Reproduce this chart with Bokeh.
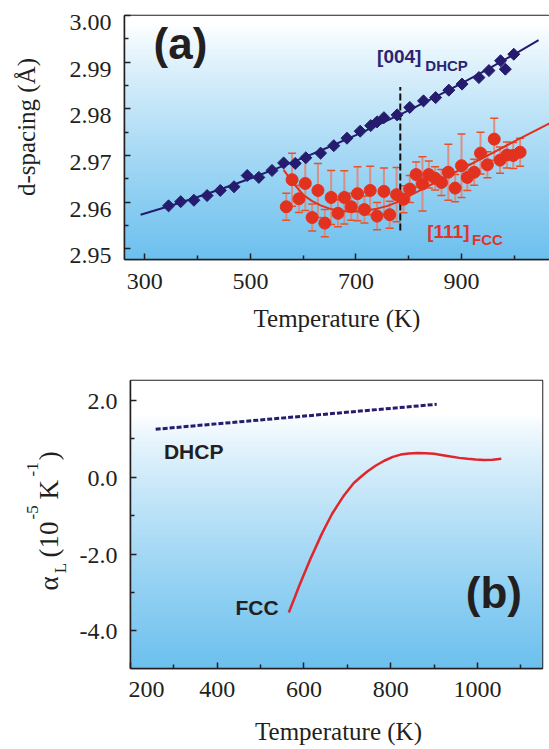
import numpy as np
from bokeh.plotting import figure
from bokeh.layouts import column, row
from bokeh.models import (Range1d, FixedTicker, Whisker, ColumnDataSource, Label,
                          TeeHead, LinearAxis, CustomJSTickFormatter)
from bokeh.embed import file_html
from bokeh.resources import INLINE

# ---------------- Panel (a): d-spacing vs temperature ----------------
dhcp_T = [345, 368, 393, 418, 443, 469, 494, 516, 541, 563, 585, 605, 633, 658,
          683, 708, 728, 740, 753, 778, 802, 828, 851, 876, 901, 933, 952, 974,
          983, 999]
dhcp_d = [2.9592, 2.9601, 2.9604, 2.9614, 2.9625, 2.9633, 2.9657, 2.9653, 2.9668,
          2.9684, 2.9683, 2.9695, 2.9705, 2.9721, 2.9737, 2.9752, 2.9764, 2.9772,
          2.9781, 2.9787, 2.9803, 2.9817, 2.9824, 2.9840, 2.9853, 2.9867, 2.9882,
          2.9903, 2.9885, 2.9917]

dhcp_fit_T = [292, 350, 400, 450, 500, 550, 600, 650, 700, 750, 800, 850, 900,
              950, 1000, 1046]
dhcp_fit_d = [2.9573, 2.95927, 2.96109, 2.96302, 2.96506, 2.96722, 2.96948,
              2.97187, 2.97436, 2.97697, 2.97968, 2.98251, 2.98546, 2.98851,
              2.99168, 2.9947]

fcc_T = [568, 579, 592, 604, 617, 628, 641, 653, 666, 678, 691, 703, 716, 727,
         740, 753, 764, 777, 790, 802, 814, 826, 838, 850, 862, 875, 888, 900,
         911, 924, 936, 949, 962, 973, 986, 998, 1011]
fcc_d = [2.9590, 2.9648, 2.9607, 2.9640, 2.9567, 2.9625, 2.9555, 2.9610, 2.9576,
         2.9610, 2.9590, 2.9618, 2.9584, 2.9625, 2.9570, 2.9623, 2.9573, 2.9616,
         2.9606, 2.9628, 2.9659, 2.9639, 2.9659, 2.9651, 2.9642, 2.9664, 2.9630,
         2.9678, 2.9653, 2.9664, 2.9705, 2.9680, 2.9735, 2.9690, 2.9701, 2.9700,
         2.9707]
fcc_err = [0.0029, 0.0057, 0.0029, 0.0058, 0.0029, 0.0058, 0.0029, 0.0058, 0.0029,
           0.0057, 0.0029, 0.0058, 0.0029, 0.0052, 0.0029, 0.0050, 0.0029, 0.0058,
           0.0029, 0.0029, 0.0027, 0.0058, 0.0029, 0.0025, 0.0028, 0.0060, 0.0029,
           0.0068, 0.0028, 0.0028, 0.0045, 0.0028, 0.0045, 0.0028, 0.0028, 0.0028,
           0.0030]

fcc_fit_T = [563, 575, 590, 602, 617, 633, 650, 665, 685, 702, 720, 740, 760, 778,
             790, 850, 900, 950, 1000, 1067]
fcc_fit_d = [2.9669, 2.9650, 2.9629, 2.9614, 2.9602, 2.9593, 2.9586, 2.9582,
             2.9580, 2.9580, 2.9582, 2.9586, 2.9592, 2.9600, 2.9607, 2.9642,
             2.9671, 2.9700, 2.9730, 2.9769]

transition_T = [784, 784]
transition_d = [2.9539, 2.9847]

xticks_a = [300, 500, 700, 900]
xminor_a = [400, 600, 800, 1000]
yticks_a = [2.95, 2.96, 2.97, 2.98, 2.99, 3.00]
ylabels_a = ["2.95", "2.96", "2.97", "2.98", "2.99", "3.00"]
yminor_a = [2.955, 2.965, 2.975, 2.985, 2.995]

# ---------------- Panel (b): linear expansion coefficient ----------------
alpha_dhcp_T = [258, 906]
alpha_dhcp = [1.25, 1.90]

alpha_fcc_T = [565, 578, 590, 603, 615, 628, 640, 653, 665, 678, 690, 703, 715,
               730, 746, 765, 785, 805, 823, 842, 862, 881, 900, 920, 938, 958,
               977, 996, 1015, 1035, 1055]
alpha_fcc = [-3.52, -3.15, -2.80, -2.45, -2.12, -1.80, -1.50, -1.21, -0.95, -0.72,
             -0.51, -0.32, -0.15, 0.00, 0.15, 0.30, 0.43, 0.53, 0.59, 0.62, 0.63,
             0.625, 0.61, 0.575, 0.54, 0.505, 0.48, 0.46, 0.45, 0.455, 0.48]

xticks_b = [200, 400, 600, 800, 1000]
xminor_b = [300, 500, 700, 900, 1100]
yticks_b = [-4.0, -2.0, 0.0, 2.0]
ylabels_b = ["-4.0", "-2.0", "0.0", "2.0"]
yminor_b = [-3.0, -1.0, 1.0]

# ---------------- styling ----------------
INK = "#231F20"
NAVY = "#251C6E"
RED = "#E2321F"
SERIF = "Liberation Serif"
SANS = "Liberation Sans"
PAGE_W, PAGE_H = 549, 748


def gradient_image(n, t0, gamma, top=(255, 255, 255), bottom=(108, 192, 238)):
    img = np.empty((n, 1), dtype=np.uint32)
    view = img.view(dtype=np.uint8).reshape((n, 1, 4))
    for i in range(n):
        frac_from_top = 1.0 - (i + 0.5) / n
        f = min(max((frac_from_top - t0) / (1 - t0), 0.0), 1.0) ** gamma
        for k in range(3):
            view[i, 0, k] = int(round(top[k] * (1 - f) + bottom[k] * f))
        view[i, 0, 3] = 255
    return img


def style_axes(p):
    for ax in (p.xaxis[0], p.yaxis[0]):
        ax.axis_line_color = INK
        ax.axis_line_width = 1.5
        ax.major_tick_line_color = INK
        ax.minor_tick_line_color = INK
        ax.major_tick_line_width = 1.5
        ax.minor_tick_line_width = 1.5
        ax.major_tick_in = 6
        ax.major_tick_out = 0
        ax.minor_tick_in = 4
        ax.minor_tick_out = 0
        ax.major_label_text_font = SERIF
        ax.major_label_text_font_size = "24px"
        ax.major_label_text_color = INK
        ax.axis_label_text_font = SERIF
        ax.axis_label_text_font_size = "25px"
        ax.axis_label_text_font_style = "normal"
        ax.axis_label_text_color = INK
    p.xgrid.visible = False
    p.ygrid.visible = False
    p.outline_line_color = INK
    p.outline_line_width = 1.5


def strip(width, height, x_range, y_range):
    s = figure(width=width, height=height, output_backend="svg",
               toolbar_location=None, x_range=x_range, y_range=y_range,
               x_axis_type=None, y_axis_type=None, min_border=0)
    s.outline_line_color = None
    s.xgrid.visible = False
    s.ygrid.visible = False
    return s


def label(x, y, text, size, font=SANS, style="normal", color=INK, **kw):
    return Label(x=x, y=y, text=text, text_font=font, text_font_style=style,
                 text_font_size=size, text_color=color,
                 text_baseline="alphabetic", **kw)


# ---------------- figure (a) ----------------
WA = 50
PA_H = 349
xa0, xa1 = 261.5, 1066.7
ya0, ya1 = 2.9477, 3.0
pa = figure(width=PAGE_W - WA, height=PA_H, output_backend="svg",
            toolbar_location=None,
            x_range=Range1d(xa0, xa1), y_range=Range1d(ya0, ya1),
            min_border_left=124 - WA, min_border_right=0, min_border_top=15,
            min_border_bottom=PA_H - 15 - 244)
pa.image_rgba(image=[gradient_image(240, 0.04, 0.85)], x=xa0, y=ya0,
              dw=xa1 - xa0, dh=ya1 - ya0, level="image")
style_axes(pa)
pa.xaxis.ticker = FixedTicker(ticks=xticks_a, minor_ticks=xminor_a)
pa.xaxis.major_label_standoff = 14
pa.xaxis.axis_label = "Temperature (K)"
pa.xaxis.axis_label_standoff = 13
# tick marks on the frame axis; labels on a second axis shifted so that the
# digits sit centred on their tick marks
ya_axis = pa.yaxis[0]
ya_axis.ticker = FixedTicker(ticks=yticks_a, minor_ticks=yminor_a)
ya_axis.formatter = CustomJSTickFormatter(code="return ''")
ya_axis.major_label_standoff = 0
shift_a = 0.0015
shifted_a = [t - shift_a for t in yticks_a]
pa.add_layout(LinearAxis(ticker=FixedTicker(ticks=shifted_a),
                         major_label_overrides=dict(zip(shifted_a, ylabels_a)),
                         axis_line_color=None, major_tick_line_color=None,
                         minor_tick_line_color=None, major_tick_in=0,
                         major_tick_out=0, minor_tick_in=0, minor_tick_out=0,
                         major_label_standoff=13, major_label_text_font=SERIF,
                         major_label_text_font_size="24px",
                         major_label_text_color=INK), "left")

pa.line(dhcp_fit_T, dhcp_fit_d, line_color=NAVY, line_width=2)
pa.line(transition_T, transition_d, line_color="#111111", line_width=2,
        line_dash="7 3")
src = ColumnDataSource(dict(T=fcc_T, d=fcc_d,
                            lo=[d - e for d, e in zip(fcc_d, fcc_err)],
                            hi=[d + e for d, e in zip(fcc_d, fcc_err)]))
wh = Whisker(base="T", lower="lo", upper="hi", source=src,
             line_color="#E4826F", line_width=2, line_alpha=0.85,
             upper_head=TeeHead(size=8, line_color="#E8502A", line_width=1.5),
             lower_head=TeeHead(size=8, line_color="#E8502A", line_width=1.5),
             level="underlay")
pa.add_layout(wh)
pa.line(fcc_fit_T, fcc_fit_d, line_color=RED, line_width=2)
pa.scatter(dhcp_T, dhcp_d, marker="square", angle=np.pi / 4, size=8.5,
           fill_color=NAVY, line_color=NAVY)
pa.scatter("T", "d", source=src, marker="circle", size=12,
           fill_color=RED, line_color=RED)

pa.add_layout(label(316.5, 2.9940, "(a)", "44px", style="bold"))
pa.add_layout(label(740, 2.99117, "[004]", "19px", style="bold",
                    color="#2B2473"))
pa.add_layout(label(831.5, 2.9893, "DHCP", "15px", style="bold",
                    color="#2B2473"))
pa.add_layout(label(835, 2.95365, "[111]", "19px", style="bold",
                    color="#E2332A"))
pa.add_layout(label(920, 2.95194, "FCC", "15px", style="bold",
                    color="#E2332A"))

sa = strip(WA, PA_H, Range1d(0, WA), pa.y_range)
sa.add_layout(label(26, 2.9761, "d-spacing (Å)", "25px", font=SERIF,
                    angle=np.pi / 2, text_align="center"))

# ---------------- figure (b) ----------------
WB = 128            # strip carrying the y tick labels and the y title
PB_H = 364          # figure (b) down to its tick labels (frame 380..668)
SX_H = PAGE_H - PA_H - PB_H   # strip carrying the x title
xb0, xb1 = 200, 1150
yb0, yb1 = -4.98, 2.52
pb = figure(width=PAGE_W - WB, height=PB_H, output_backend="svg",
            toolbar_location=None,
            x_range=Range1d(xb0, xb1), y_range=Range1d(yb0, yb1),
            min_border_left=130 - WB, min_border_right=PAGE_W - 542,
            min_border_top=380 - PA_H, min_border_bottom=PB_H - (380 - PA_H) - 288)
pb.image_rgba(image=[gradient_image(240, 0.12, 0.8)], x=xb0, y=yb0,
              dw=xb1 - xb0, dh=yb1 - yb0, level="image")
style_axes(pb)
pb.xaxis.ticker = FixedTicker(ticks=xticks_b, minor_ticks=xminor_b)
pb.xaxis.major_label_standoff = 13
pb.yaxis.ticker = FixedTicker(ticks=yticks_b, minor_ticks=yminor_b)
pb.yaxis.formatter = CustomJSTickFormatter(code="return ''")
pb.yaxis.major_label_standoff = 0

pb.line(alpha_dhcp_T, alpha_dhcp, line_color=NAVY, line_width=3,
        line_dash="5 2")
pb.line(alpha_fcc_T, alpha_fcc, line_color="#E0262A", line_width=2.5)

pb.add_layout(label(277, 0.666, "DHCP", "21px", style="bold"))
pb.add_layout(label(442, -3.389, "FCC", "21px", style="bold"))
pb.add_layout(label(973, -2.993, "(b)", "44px", style="bold"))

# left strip: y tick labels and composite title alpha_L (10^-5 K^-1)
pl = strip(WB, PB_H, Range1d(0, WB), pb.y_range)
for t, lab in zip(yticks_b, ylabels_b):
    pl.add_layout(label(117, t, lab, "24px", font=SERIF, y_offset=-1,
                        text_align="right"))
ylab = [("α", 48, -2.95, "27px"), ("L", 60, -2.50, "17px"),
        ("(10", 48, -2.09, "27px"), ("-5", 32, -1.10, "17px"),
        ("K", 48, -0.58, "27px"), ("-1", 32, 0.02, "17px"),
        (")", 48, 0.44, "27px")]
for txt, lx, ly, fs in ylab:
    pl.add_layout(label(lx, ly, txt, fs, font=SERIF, angle=np.pi / 2,
                        text_align="left"))

# bottom strip: x title of panel (b)
sx = strip(PAGE_W, SX_H, Range1d(0, PAGE_W), Range1d(0, SX_H))
sx.add_layout(label(338, 17.5, "Temperature (K)", "25px", font=SERIF,
                    text_align="center"))

layout = column(row(sa, pa), row(pl, pb), sx)
open("out.html", "w").write(file_html(layout, INLINE))
